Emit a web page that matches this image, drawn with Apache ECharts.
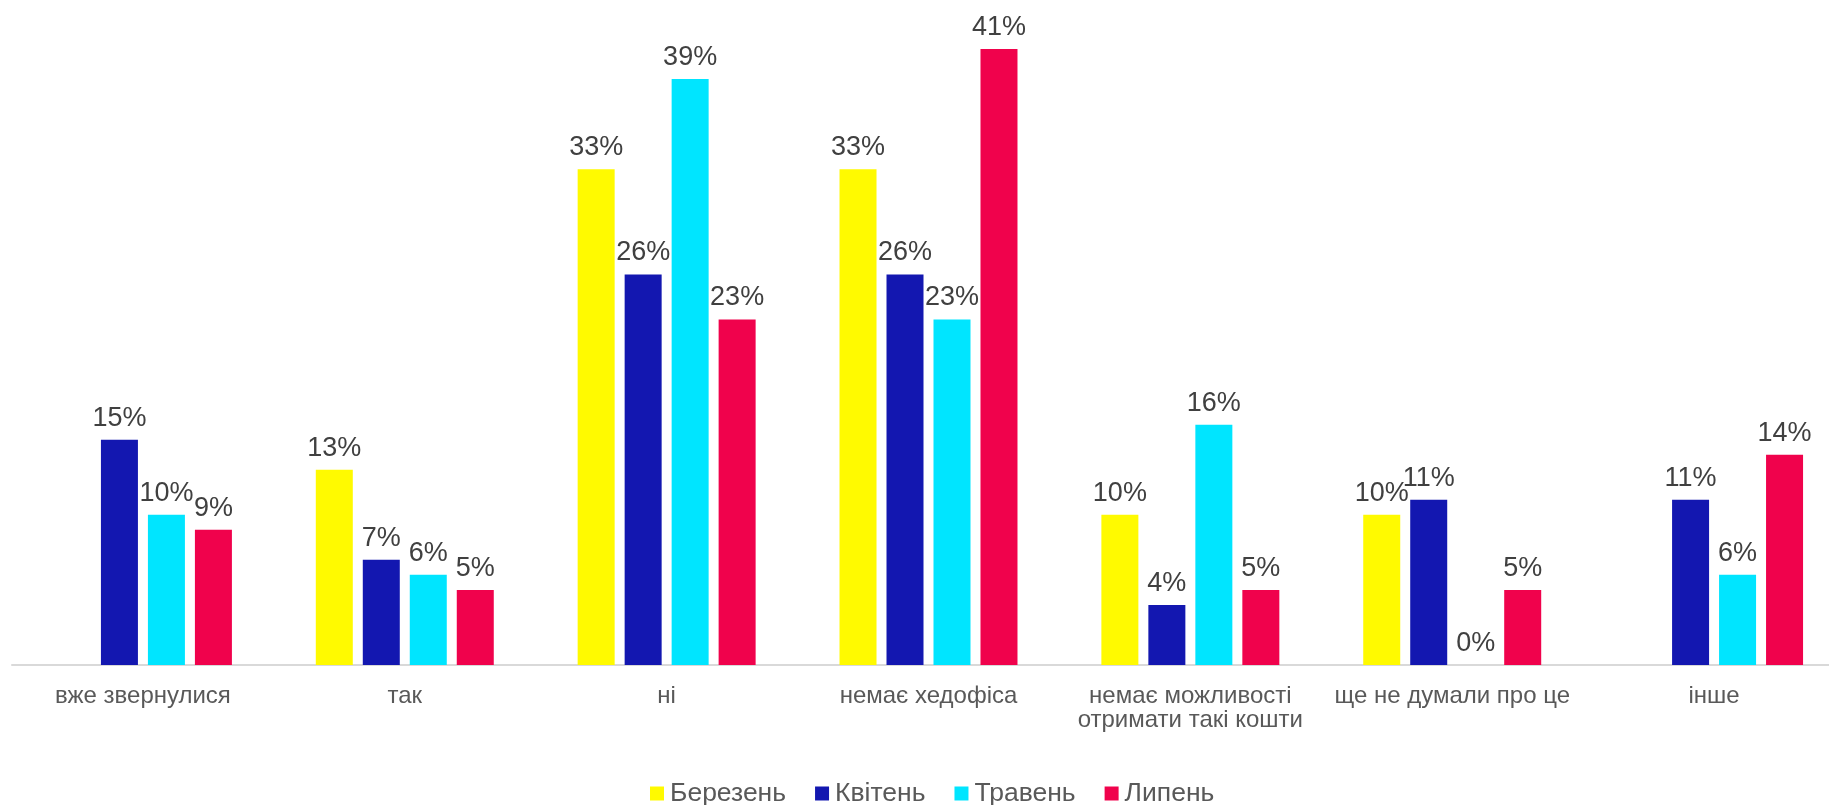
<!DOCTYPE html>
<html>
<head>
<meta charset="utf-8">
<script src="https://cdn.jsdelivr.net/npm/echarts@6/dist/echarts.min.js"></script>
<style>
  html, body { margin: 0; padding: 0; background: #ffffff; }
  #chart { width: 1829px; height: 805px; }
</style>
</head>
<body>
<div id="chart"></div>
<script>
// Відповіді за місяцями, %
const categories = [
  'вже звернулися',
  'так',
  'ні',
  'немає хедофіса',
  'немає можливості\nотримати такі кошти',
  'ще не думали про це',
  'інше'
];
const monthNames = ['Березень', 'Квітень', 'Травень', 'Липень'];
const berezen = [null, 13, 33, 33, 10, 10, null];
const kviten  = [15, 7, 26, 26, 4, 11, 11];
const traven  = [10, 6, 39, 23, 16, 0, 6];
const lypen   = [9, 5, 23, 41, 5, 5, 14];
const colors = ['#FFFA00', '#1317B0', '#00E5FF', '#F0024C'];

const FONT = '"Liberation Sans", Arial, sans-serif';

const seriesData = [berezen, kviten, traven, lypen];

const chart = echarts.init(document.getElementById('chart'));
chart.setOption({
  animation: false,
  backgroundColor: '#ffffff',
  color: colors,
  textStyle: { fontFamily: FONT },
  grid: { left: 12, width: 1833, top: 4, bottom: 140, containLabel: false, outerBoundsMode: 'none' },
  legend: {
    left: 645,
    top: 775,
    itemWidth: 14,
    itemHeight: 14,
    itemGap: 29,
    icon: 'rect',
    textStyle: { fontFamily: FONT, fontSize: 26.5, color: '#595959', padding: [0, 0, 0, 1] },
    data: monthNames
  },
  xAxis: {
    type: 'category',
    data: categories,
    axisLine: { lineStyle: { color: '#D9D9D9', width: 2 } },
    axisTick: { show: false },
    axisLabel: {
      interval: 0,
      margin: 19,
      fontFamily: FONT,
      fontSize: 24,
      lineHeight: 24,
      color: '#595959'
    }
  },
  yAxis: {
    type: 'value',
    min: 0,
    max: 44,
    show: false,
    splitLine: { show: false }
  },
  series: seriesData.map((arr, i) => ({
    name: monthNames[i],
    type: 'bar',
    data: arr,
    barWidth: 37,
    barGap: '27%',
    itemStyle: { color: colors[i] },
    label: {
      show: true,
      position: 'top',
      distance: 8,
      fontFamily: FONT,
      fontSize: 27,
      color: '#404040',
      formatter: p => (p.value == null ? '' : p.value + '%')
    }
  }))
});
</script>
</body>
</html>
